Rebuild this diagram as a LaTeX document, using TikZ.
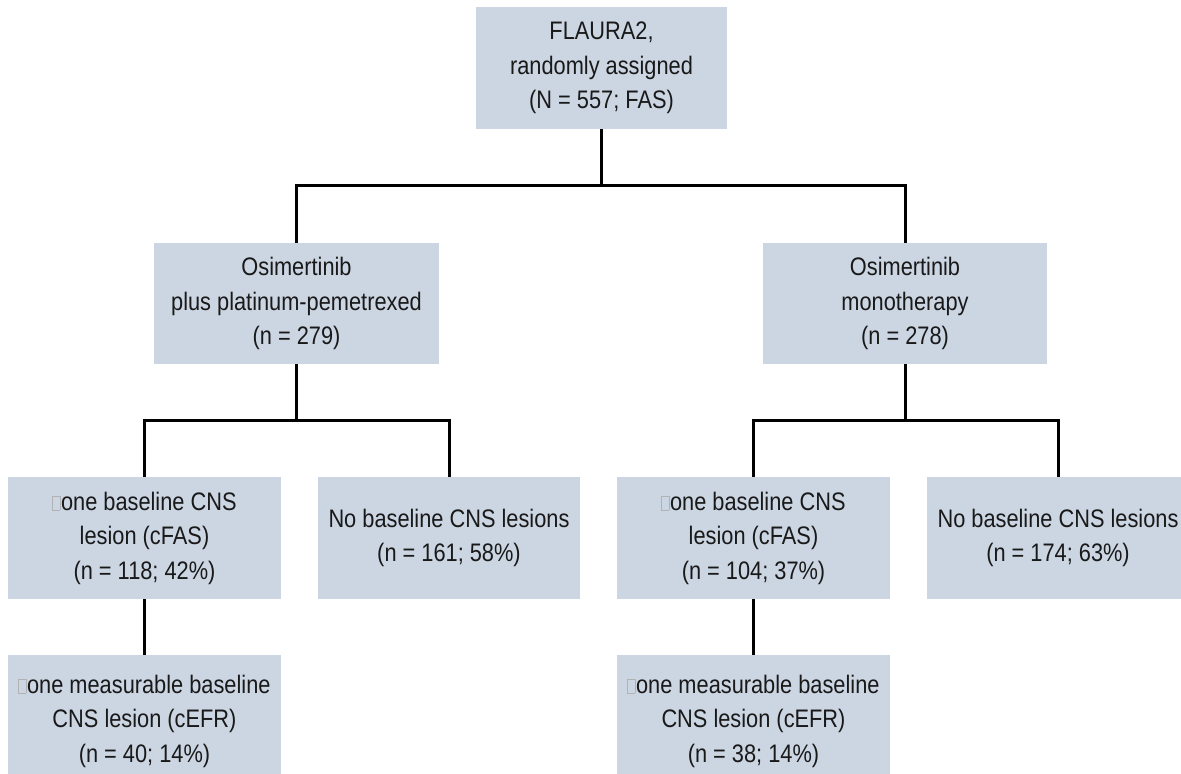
\documentclass[tikz,border=0pt]{standalone}
\usepackage{fontspec}
\setmainfont{Liberation Sans}[FakeStretch=0.86]
\definecolor{boxblue}{RGB}{204,214,227}
\definecolor{txt}{RGB}{25,25,25}
\newcommand{\missingglyph}{{\setlength{\fboxsep}{0pt}\setlength{\fboxrule}{0.5pt}\color{gray!60}\fbox{\rule{0pt}{10pt}\hspace{5pt}}}\hspace{0.5pt}}
\tikzset{
  box/.style={fill=boxblue, inner sep=0pt, align=center, text=txt,
    font=\fontsize{19}{25.9}\selectfont},
  conn/.style={draw=black, line width=2.25pt}
}
\begin{document}
\begin{tikzpicture}[x=0.75pt,y=-0.75pt]
\clip (0,0) rectangle (1181,774);
\fill[white] (0,0) rectangle (1181,774);

\node[box, minimum width=188.25pt, minimum height=91.5pt] (top) at (601.5,68)
  {FLAURA2,\\randomly assigned\\(N = 557; FAS)};
\node[box, minimum width=213.75pt, minimum height=90.75pt] (ml) at (296.5,303.5)
  {Osimertinib\\plus platinum-pemetrexed\\(n = 279)};
\node[box, minimum width=213pt, minimum height=90.75pt] (mr) at (905,303.5)
  {Osimertinib\\monotherapy\\(n = 278)};
\node[box, minimum width=204.75pt, minimum height=91.5pt] (l1) at (144.5,538)
  {\missingglyph one baseline CNS\\lesion (cFAS)\\(n = 118; 42\%)};
\node[box, minimum width=196.5pt, minimum height=91.5pt] (l2) at (449,538)
  {No baseline CNS lesions\\(n = 161; 58\%)};
\node[box, minimum width=204.75pt, minimum height=91.5pt] (r1) at (753.5,538)
  {\missingglyph one baseline CNS\\lesion (cFAS)\\(n = 104; 37\%)};
\node[box, minimum width=196.5pt, minimum height=91.5pt] (r2) at (1058,538)
  {No baseline CNS lesions\\(n = 174; 63\%)};
\node[box, minimum width=204.75pt, minimum height=99pt] (b1) at (144.5,721)
  {\missingglyph one measurable baseline\\CNS lesion (cEFR)\\(n = 40; 14\%)};
\node[box, minimum width=204.75pt, minimum height=99pt] (b2) at (753.5,721)
  {\missingglyph one measurable baseline\\CNS lesion (cEFR)\\(n = 38; 14\%)};

\coordinate (j0) at (601.5,185);
\coordinate (j1) at (296.5,420);
\coordinate (j2) at (905,420);

\draw[conn] (top.south) -- (j0);
\draw[conn] (j0) -| (ml.north);
\draw[conn] (j0) -| (mr.north);
\draw[conn] (ml.south) -- (j1);
\draw[conn] (j1) -| (l1.north);
\draw[conn] (j1) -| (l2.north);
\draw[conn] (mr.south) -- (j2);
\draw[conn] (j2) -| (r1.north);
\draw[conn] (j2) -| (r2.north);
\draw[conn] (l1.south) -- (b1.north);
\draw[conn] (r1.south) -- (b2.north);
\end{tikzpicture}
\end{document}
